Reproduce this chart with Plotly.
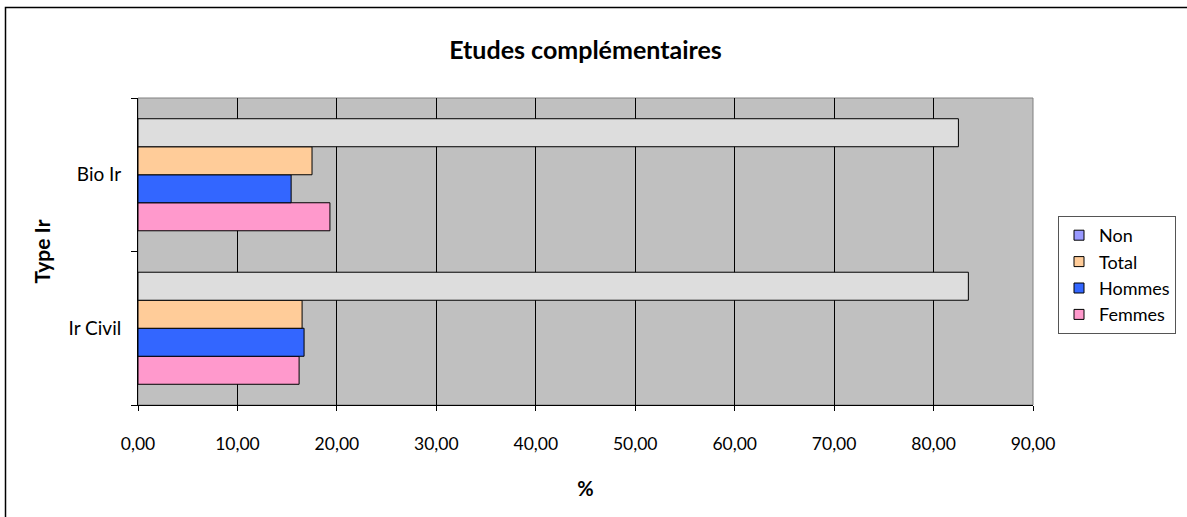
import plotly.graph_objects as go

categories = ["Ir Civil", "Bio Ir"]
non = [83.5, 82.5]
total = [16.5, 17.5]
hommes = [16.7, 15.4]
femmes = [16.2, 19.3]
x_ticks = [0, 10, 20, 30, 40, 50, 60, 70, 80, 90]

FONT = "Lato"
bar_line = dict(color="black", width=1)

fig = go.Figure()
# bars: first trace is drawn lowest in each group
for name, vals, col in [("Femmes", femmes, "#FF99CC"),
                        ("Hommes", hommes, "#3366FF"),
                        ("Total", total, "#FFCC99"),
                        ("Non", non, "#DDDDDD")]:
    fig.add_trace(go.Bar(y=categories, x=vals, name=name, orientation="h",
                         marker=dict(color=col, line=bar_line),
                         showlegend=False))

# legend entries (Excel legend swatches)
for name, col in [("Non", "#9999FF"), ("Total", "#FFCC99"),
                  ("Hommes", "#3366FF"), ("Femmes", "#FF99CC")]:
    fig.add_trace(go.Scatter(x=[None], y=[None], mode="markers", name=name,
                             marker=dict(symbol="square", size=10, color=col,
                                         line=dict(color="black", width=1))))

W, H = 1187, 517
L, R, T, B = 138, 154, 98, 112
pw, ph = W - L - R, H - T - B

def px(x):
    return (x - L) / pw

def py(y):
    return (H - B - y) / ph

fig.update_layout(
    width=W, height=H,
    margin=dict(l=L, r=R, t=T, b=B, autoexpand=False),
    paper_bgcolor="white",
    plot_bgcolor="#C0C0C0",
    barmode="group",
    bargap=0.27,
    bargroupgap=0,
    separators=",.",
    font=dict(family=FONT, size=18, color="black"),
    title=dict(text="<b>Etudes complémentaires</b>", x=0.5, xanchor="center",
               xref="paper", y=1 - 50 / H, yanchor="middle",
               font=dict(family=FONT, size=25, color="black")),
    xaxis=dict(range=[0, 90], tickvals=x_ticks, tickformat=".2f",
               showgrid=True, gridcolor="black", gridwidth=1,
               showline=True, linecolor="black", linewidth=1,
               ticks="outside", ticklen=5, tickcolor="black",
               ticklabelstandoff=18, zeroline=False,
               tickfont=dict(family=FONT, size=17.5),
               title=dict(text="<b>%</b>", standoff=28,
                          font=dict(family=FONT, size=20))),
    yaxis=dict(categoryorder="array", categoryarray=categories,
               showline=True, linecolor="black", linewidth=1,
               ticks="outside", ticklen=6, tickcolor="black",
               tickson="boundaries", ticklabelstandoff=12,
               showgrid=False, zeroline=False,
               tickfont=dict(family=FONT, size=19),
               title=dict(text="<b>Type Ir</b>", standoff=12,
                          font=dict(family=FONT, size=21))),
    legend=dict(x=px(1058), xanchor="left", y=py(216), yanchor="top",
                bgcolor="white", bordercolor="#555555", borderwidth=1,
                font=dict(family=FONT, size=18), traceorder="normal",
                itemwidth=30, tracegroupgap=0),
    shapes=[
        dict(type="rect", xref="paper", yref="paper", x0=0, x1=1, y0=0, y1=1,
             line=dict(color="#808080", width=1), layer="below"),
        dict(type="rect", xref="paper", yref="paper",
             x0=px(5.5), x1=px(1195), y0=py(525), y1=py(7.5),
             line=dict(color="black", width=1.5), layer="below"),
    ],
)

fig.write_html("out.html",
               config={"displayModeBar": False},
               post_script="document.body.style.margin='0px';"
                           "document.body.style.overflow='hidden';")
